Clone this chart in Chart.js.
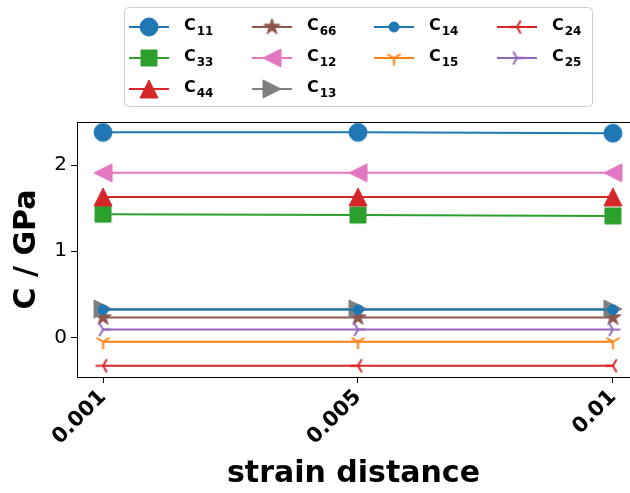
<!DOCTYPE html>
<html>
<head>
<meta charset="utf-8">
<script src="https://cdn.jsdelivr.net/npm/chart.js@4.4.1/dist/chart.umd.min.js"></script>
<style>
  html, body { margin: 0; padding: 0; background: #fff; overflow: hidden; }
</style>
</head>
<body>
<canvas id="chart" width="630" height="493"></canvas>
<script>
// strain distances (categories) and tick values
const xLabels = ['0.001', '0.005', '0.01'];
const yTicks = [0, 1, 2];

// elastic constants, GPa
const c11 = [2.38, 2.38, 2.37];
const c33 = [1.43, 1.42, 1.41];
const c44 = [1.63, 1.63, 1.63];
const c66 = [0.23, 0.23, 0.23];
const c12 = [1.91, 1.91, 1.91];
const c13 = [0.33, 0.33, 0.33];
const c14 = [0.32, 0.32, 0.32];
const c15 = [-0.05, -0.05, -0.05];
const c24 = [-0.33, -0.33, -0.33];
const c25 = [0.09, 0.09, 0.09];

const series = [
    { sub: '11', data: c11, color: '#1f77b4', marker: 'circle', size: 18 },
    { sub: '33', data: c33, color: '#2ca02c', marker: 'square', size: 16 },
    { sub: '44', data: c44, color: '#d62728', marker: 'triUp', size: 18 },
    { sub: '66', data: c66, color: '#8c564b', marker: 'star', size: 17 },
    { sub: '12', data: c12, color: '#e377c2', marker: 'triLeft', size: 18 },
    { sub: '13', data: c13, color: '#7f7f7f', marker: 'triRight', size: 18 },
    { sub: '14', data: c14, color: '#1f77b4', marker: 'circle', size: 10 },
    { sub: '15', data: c15, color: '#ff7f0e', marker: 'tri_down', size: 15 },
    { sub: '24', data: c24, color: '#d62728', marker: 'tri_left', size: 15 },
    { sub: '25', data: c25, color: '#9467bd', marker: 'tri_right', size: 15 }
];

function makeMarker(kind, size, color) {
    const c = document.createElement('canvas');
    c.width = c.height = Math.ceil(size + 6);
    const g = c.getContext('2d');
    const m = c.width / 2, r = size / 2;
    g.translate(m, m);
    g.fillStyle = color;
    g.strokeStyle = color;
    g.lineWidth = 1;
    g.beginPath();
    if (kind === 'circle') {
        g.arc(0, 0, r, 0, Math.PI * 2);
    } else if (kind === 'square') {
        g.rect(-r, -r, size, size);
    } else if (kind === 'triUp') {
        g.moveTo(0, -r); g.lineTo(r, r); g.lineTo(-r, r); g.closePath();
    } else if (kind === 'triLeft') {
        g.moveTo(-r, 0); g.lineTo(r, -r); g.lineTo(r, r); g.closePath();
    } else if (kind === 'triRight') {
        g.moveTo(r, 0); g.lineTo(-r, -r); g.lineTo(-r, r); g.closePath();
    } else if (kind === 'star') {
        for (let i = 0; i < 10; i++) {
            const rad = i % 2 ? r * 0.382 : r;
            const a = -Math.PI / 2 + i * Math.PI / 5;
            if (i === 0) g.moveTo(rad * Math.cos(a), rad * Math.sin(a));
            else g.lineTo(rad * Math.cos(a), rad * Math.sin(a));
        }
        g.closePath();
    } else {
        // thin tri markers
        let angles;
        if (kind === 'tri_down') angles = [90, 210, 330];
        else if (kind === 'tri_left') angles = [180, 300, 60];
        else angles = [0, 120, 240];
        angles.forEach(d => {
            const a = d * Math.PI / 180;
            g.moveTo(0, 0);
            g.lineTo(r * Math.cos(a), r * Math.sin(a));
        });
        g.lineWidth = 2;
        g.stroke();
        return c;
    }
    g.fill();
    g.stroke();
    return c;
}

series.forEach(s => { s.img = makeMarker(s.marker, s.size, s.color); });

// legend placed like matplotlib: 4 columns, filled column by column
const legendCols = [[0, 1, 2], [3, 4, 5], [6, 7], [8, 9]];
const legendColX = [129, 252, 374, 497];
const legendRowY = [27, 58, 89];

const legendPlugin = {
    id: 'mplLegend',
    afterDraw(chart) {
        const ctx = chart.ctx;
        const area = chart.chartArea;
        ctx.save();
        // top spine
        ctx.strokeStyle = '#000';
        ctx.lineWidth = 1;
        ctx.beginPath();
        ctx.moveTo(area.left, area.top + 0.5);
        ctx.lineTo(630, area.top + 0.5);
        ctx.stroke();

        // frame
        ctx.beginPath();
        ctx.roundRect(124.5, 7.5, 468, 99, 4);
        ctx.fillStyle = 'rgba(255,255,255,0.8)';
        ctx.fill();
        ctx.strokeStyle = '#cccccc';
        ctx.stroke();

        legendCols.forEach((col, ci) => {
            col.forEach((si, ri) => {
                const s = series[si];
                const x = legendColX[ci];
                const y = legendRowY[ri];
                ctx.strokeStyle = s.color;
                ctx.lineWidth = 2;
                ctx.beginPath();
                ctx.moveTo(x, y);
                ctx.lineTo(x + 40, y);
                ctx.stroke();
                ctx.drawImage(s.img, x + 20 - s.img.width / 2, y - s.img.height / 2);
                ctx.fillStyle = '#000';
                ctx.textBaseline = 'alphabetic';
                ctx.textAlign = 'left';
                ctx.font = 'bold 16px "DejaVu Sans"';
                const tx = x + 55;
                ctx.fillText('C', tx, y + 3);
                const w = ctx.measureText('C').width;
                ctx.font = 'bold 12px "DejaVu Sans"';
                ctx.fillText(s.sub, tx + w + 1, y + 8);
            });
        });
        ctx.restore();
    }
};

const datasets = series.map((s, i) => ({
    label: 'C' + s.sub,
    data: s.data.map((v, k) => ({ x: k, y: v })),
    borderColor: s.color,
    backgroundColor: s.color,
    borderWidth: 2,
    pointStyle: s.img,
    pointRadius: 6,
    pointHoverRadius: 6,
    tension: 0,
    order: series.length - i
}));

new Chart(document.getElementById('chart'), {
    type: 'line',
    data: { datasets },
    options: {
        responsive: false,
        animation: false,
        events: [],
        layout: { autoPadding: false, padding: { top: 122, left: 0, right: 0, bottom: 0 } },
        plugins: { legend: { display: false }, tooltip: { enabled: false } },
        scales: {
            x: {
                type: 'linear',
                min: -0.102,
                max: 2.067,
                afterBuildTicks: scale => { scale.ticks = [0, 1, 2].map(v => ({ value: v })); },
                afterFit: scale => { scale.height = 116; scale.paddingLeft = 0; scale.paddingRight = 0; },
                ticks: {
                    callback: v => xLabels[v],
                    minRotation: 45,
                    maxRotation: 45,
                    color: '#000',
                    padding: 2,
                    font: { family: 'DejaVu Sans', size: 21, weight: 'bold' }
                },
                grid: { drawOnChartArea: false, color: '#000', tickLength: 6 },
                border: { color: '#000', width: 1 },
                title: {
                    display: true,
                    text: 'strain distance',
                    color: '#000',
                    padding: { top: 0, bottom: 1 },
                    font: { family: 'DejaVu Sans', size: 30, weight: 'bold' }
                }
            },
            y: {
                min: -0.46,
                max: 2.5,
                afterBuildTicks: scale => { scale.ticks = yTicks.map(v => ({ value: v })); },
                afterFit: scale => { scale.width = 77; },
                ticks: {
                    color: '#000',
                    padding: 4,
                    font: { family: 'DejaVu Sans', size: 20 }
                },
                grid: { drawOnChartArea: false, color: '#000', tickLength: 6 },
                border: { color: '#000', width: 1 },
                title: {
                    display: true,
                    text: 'C / GPa',
                    color: '#000',
                    padding: { top: 9, bottom: 0 },
                    font: { family: 'DejaVu Sans', size: 30, weight: 'bold' }
                }
            }
        }
    },
    plugins: [legendPlugin]
});
</script>
</body>
</html>
